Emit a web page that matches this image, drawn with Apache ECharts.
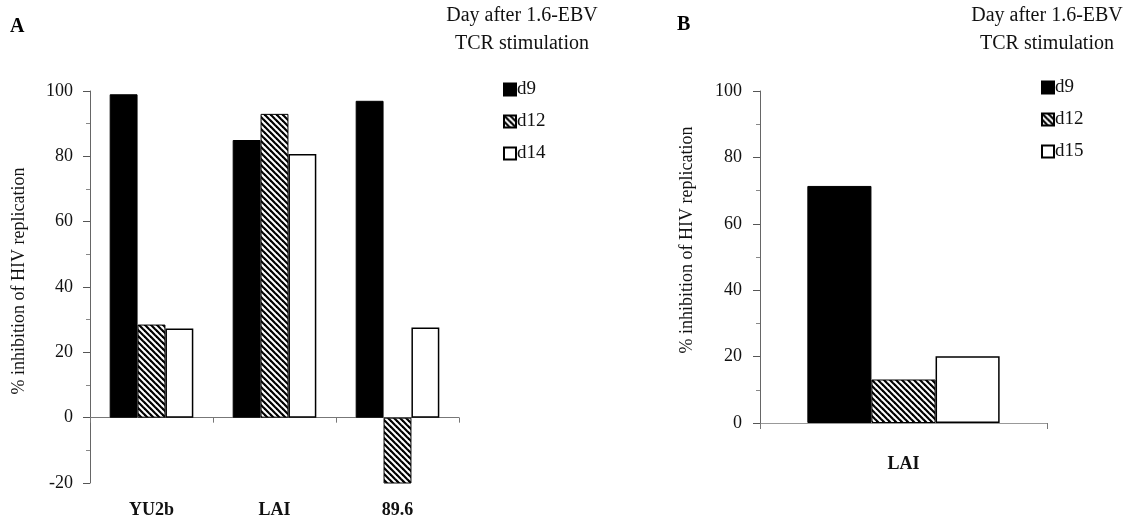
<!DOCTYPE html>
<html>
<head>
<meta charset="utf-8">
<script src="https://cdn.jsdelivr.net/npm/echarts@6/dist/echarts.min.js"></script>
<style>html,body{margin:0;padding:0;background:#fff;}#c{width:1137px;height:527px;}</style>
</head>
<body>
<div id="c"></div>
<script>
// ---- data ----
const catsA = ['YU2b', 'LAI', '89.6'];
const d9A = [99, 85, 97];
const d12A = [28.5, 93, -20.7];
const d14A = [27.3, 80.7, 27.6];

const catsB = ['LAI'];
const d9B = [71.4];
const d12B = [13.1];
const d15B = [20.1];

const legendA = ['d9', 'd12', 'd14'];
const legendB = ['d9', 'd12', 'd15'];
const legendTitle = 'Day after 1.6-EBV\nTCR stimulation';
const yName = '% inhibition of HIV replication';

// ---- hatch pattern ----
function hatch() {
  const s = 6;
  const c = document.createElement('canvas');
  c.width = s; c.height = s;
  const g = c.getContext('2d');
  g.fillStyle = '#fff'; g.fillRect(0, 0, s, s);
  g.strokeStyle = '#000'; g.lineWidth = 2.2;
  for (let k = -s; k <= s; k += s) {
    g.beginPath(); g.moveTo(-1, k - 1); g.lineTo(s + 1, k + s + 1); g.stroke();
  }
  return { image: c, repeat: 'repeat' };
}
const pat = hatch();
const FONT = 'Liberation Serif';

const styles = {
  d9: { color: '#000', borderColor: '#000', borderWidth: 1 },
  d12: { color: pat, borderColor: '#000', borderWidth: 1 },
  d14: { color: '#fff', borderColor: '#000', borderWidth: 1.5 },
  d15: { color: '#fff', borderColor: '#000', borderWidth: 1.5 }
};

function yAxis(gridIndex, min, nameGap, labelMargin, namePad) {
  return {
    type: 'value', gridIndex, min, max: 100, interval: 20,
    name: yName, nameLocation: 'middle', nameGap,
    nameTextStyle: { fontFamily: FONT, fontSize: 18, color: '#111', padding: namePad },
    axisLine: { show: true, lineStyle: { color: '#666', width: 1 } },
    axisTick: { show: true, length: 7, lineStyle: { color: '#555' } },
    minorTick: { show: true, splitNumber: 2, length: 4, lineStyle: { color: '#888' } },
    splitLine: { show: false },
    axisLabel: { fontFamily: FONT, fontSize: 18, color: '#111', margin: labelMargin }
  };
}

const chart = echarts.init(document.getElementById('c'));
const option = {
  animation: false,
  backgroundColor: '#fff',
  grid: [
    { left: 90, top: 91, width: 369, height: 392 },
    { left: 760, top: 91, width: 287, height: 332 }
  ],
  xAxis: [
    { type: 'category', gridIndex: 0, data: catsA,
      axisLine: { show: false, onZero: false }, axisTick: { show: false },
      axisLabel: { fontFamily: FONT, fontSize: 18, fontWeight: 'bold', color: '#111', margin: 18 } },
    { type: 'category', gridIndex: 0, data: catsA, position: 'bottom',
      axisLine: { show: true, onZero: true, lineStyle: { color: '#777', width: 1 } },
      axisTick: { show: true, length: 5, lineStyle: { color: '#777' } },
      axisLabel: { show: false } },
    { type: 'category', gridIndex: 1, data: catsB,
      axisLine: { show: true, lineStyle: { color: '#999', width: 1 } },
      axisTick: { show: true, length: 6, lineStyle: { color: '#777' } },
      axisLabel: { fontFamily: FONT, fontSize: 18, fontWeight: 'bold', color: '#111', margin: 32 } }
  ],
  yAxis: [yAxis(0, -20, 62, 17, [0, 0, 0, 12]), yAxis(1, 0, 64, 18, [0, 0, 0, 34])],
  legend: [
    { data: legendA, orient: 'vertical', left: 498, top: 75, itemWidth: 12, itemHeight: 12,
      itemGap: 13, selectedMode: false, icon: 'rect',
      textStyle: { fontFamily: FONT, fontSize: 19, color: '#111', padding: [0, 0, 0, -4] } },
    { data: legendB, orient: 'vertical', left: 1036, top: 73, itemWidth: 12, itemHeight: 12,
      itemGap: 13, selectedMode: false, icon: 'rect',
      textStyle: { fontFamily: FONT, fontSize: 19, color: '#111', padding: [0, 0, 0, -4] } }
  ],
  graphic: [
    { type: 'text', x: 10, y: 17, style: { text: 'A', font: 'bold 20px "Liberation Serif"', fill: '#000' } },
    { type: 'text', x: 677, y: 15, style: { text: 'B', font: 'bold 20px "Liberation Serif"', fill: '#000' } },
    { type: 'text', x: 522, y: 2, style: { text: legendTitle, textAlign: 'center', font: '20px "Liberation Serif"', lineHeight: 28, fill: '#111' } },
    { type: 'text', x: 1047, y: 2, style: { text: legendTitle, textAlign: 'center', font: '20px "Liberation Serif"', lineHeight: 28, fill: '#111' } }
  ],
  series: [
    { name: 'd9', type: 'bar', xAxisIndex: 0, yAxisIndex: 0, data: d9A, itemStyle: styles.d9, barGap: '0%', barCategoryGap: '32%' },
    { name: 'd12', type: 'bar', xAxisIndex: 0, yAxisIndex: 0, data: d12A, itemStyle: styles.d12, barGap: '0%', barCategoryGap: '32%' },
    { name: 'd14', type: 'bar', xAxisIndex: 0, yAxisIndex: 0, data: d14A, itemStyle: styles.d14, barGap: '0%', barCategoryGap: '32%' },
    { name: 'd9', type: 'bar', xAxisIndex: 2, yAxisIndex: 1, data: d9B, itemStyle: styles.d9, barGap: '0%', barCategoryGap: '33%' },
    { name: 'd12', type: 'bar', xAxisIndex: 2, yAxisIndex: 1, data: d12B, itemStyle: styles.d12, barGap: '0%', barCategoryGap: '33%' },
    { name: 'd15', type: 'bar', xAxisIndex: 2, yAxisIndex: 1, data: d15B, itemStyle: styles.d15, barGap: '0%', barCategoryGap: '33%' }
  ]
};
chart.setOption(option);
</script>
</body>
</html>
